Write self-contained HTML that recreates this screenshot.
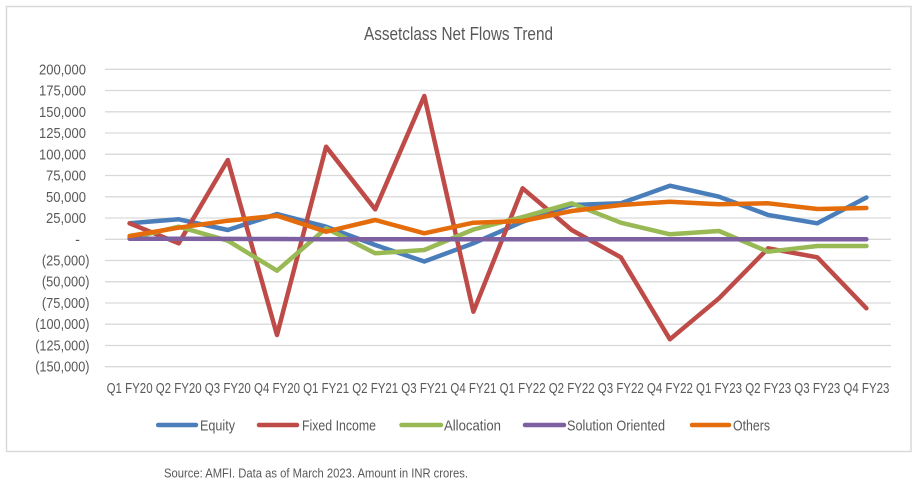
<!DOCTYPE html>
<html><head><meta charset="utf-8"><style>
html,body{margin:0;padding:0;background:#fff;}
svg{display:block;}
text{font-family:"Liberation Sans Narrow","Liberation Sans",sans-serif;fill:#595959;}
</style></head><body>
<svg width="917" height="485" viewBox="0 0 917 485" xmlns="http://www.w3.org/2000/svg">
<rect x="0" y="0" width="917" height="485" fill="#fff"/>
<rect x="6.5" y="6.5" width="904.5" height="445" fill="none" stroke="#d9d9d9" stroke-width="1.5"/>
<text x="458.5" y="40" font-size="18" text-anchor="middle" textLength="189" lengthAdjust="spacingAndGlyphs">Assetclass Net Flows Trend</text>
<g stroke="#d9d9d9" stroke-width="1.3">
<line x1="105" x2="891" y1="69.3" y2="69.3"/>
<line x1="105" x2="891" y1="90.5" y2="90.5"/>
<line x1="105" x2="891" y1="111.8" y2="111.8"/>
<line x1="105" x2="891" y1="133.0" y2="133.0"/>
<line x1="105" x2="891" y1="154.3" y2="154.3"/>
<line x1="105" x2="891" y1="175.5" y2="175.5"/>
<line x1="105" x2="891" y1="196.8" y2="196.8"/>
<line x1="105" x2="891" y1="218.0" y2="218.0"/>
<line x1="105" x2="891" y1="239.3" y2="239.3"/>
<line x1="105" x2="891" y1="260.5" y2="260.5"/>
<line x1="105" x2="891" y1="281.7" y2="281.7"/>
<line x1="105" x2="891" y1="303.0" y2="303.0"/>
<line x1="105" x2="891" y1="324.2" y2="324.2"/>
<line x1="105" x2="891" y1="345.5" y2="345.5"/>
<line x1="105" x2="891" y1="366.7" y2="366.7"/>
</g>
<g font-size="14.5">
<text x="86" y="74.3" text-anchor="end" textLength="47" lengthAdjust="spacingAndGlyphs">200,000</text>
<text x="86" y="95.5" text-anchor="end" textLength="47" lengthAdjust="spacingAndGlyphs">175,000</text>
<text x="86" y="116.8" text-anchor="end" textLength="47" lengthAdjust="spacingAndGlyphs">150,000</text>
<text x="86" y="138.0" text-anchor="end" textLength="47" lengthAdjust="spacingAndGlyphs">125,000</text>
<text x="86" y="159.3" text-anchor="end" textLength="47" lengthAdjust="spacingAndGlyphs">100,000</text>
<text x="86" y="180.5" text-anchor="end" textLength="40" lengthAdjust="spacingAndGlyphs">75,000</text>
<text x="86" y="201.8" text-anchor="end" textLength="40" lengthAdjust="spacingAndGlyphs">50,000</text>
<text x="86" y="223.0" text-anchor="end" textLength="40" lengthAdjust="spacingAndGlyphs">25,000</text>
<text x="77.5" y="244.3" text-anchor="middle">-</text>
<text x="89.5" y="265.5" text-anchor="end" textLength="47.6" lengthAdjust="spacingAndGlyphs">(25,000)</text>
<text x="89.5" y="286.7" text-anchor="end" textLength="47.6" lengthAdjust="spacingAndGlyphs">(50,000)</text>
<text x="89.5" y="308.0" text-anchor="end" textLength="47.6" lengthAdjust="spacingAndGlyphs">(75,000)</text>
<text x="89.5" y="329.2" text-anchor="end" textLength="54.3" lengthAdjust="spacingAndGlyphs">(100,000)</text>
<text x="89.5" y="350.5" text-anchor="end" textLength="54.3" lengthAdjust="spacingAndGlyphs">(125,000)</text>
<text x="89.5" y="371.7" text-anchor="end" textLength="54.3" lengthAdjust="spacingAndGlyphs">(150,000)</text>
</g>
<g font-size="14.5" text-anchor="middle">
<text x="129.6" y="393" textLength="46" lengthAdjust="spacingAndGlyphs">Q1 FY20</text>
<text x="178.7" y="393" textLength="46" lengthAdjust="spacingAndGlyphs">Q2 FY20</text>
<text x="227.8" y="393" textLength="46" lengthAdjust="spacingAndGlyphs">Q3 FY20</text>
<text x="277.0" y="393" textLength="46" lengthAdjust="spacingAndGlyphs">Q4 FY20</text>
<text x="326.1" y="393" textLength="46" lengthAdjust="spacingAndGlyphs">Q1 FY21</text>
<text x="375.2" y="393" textLength="46" lengthAdjust="spacingAndGlyphs">Q2 FY21</text>
<text x="424.3" y="393" textLength="46" lengthAdjust="spacingAndGlyphs">Q3 FY21</text>
<text x="473.4" y="393" textLength="46" lengthAdjust="spacingAndGlyphs">Q4 FY21</text>
<text x="522.6" y="393" textLength="46" lengthAdjust="spacingAndGlyphs">Q1 FY22</text>
<text x="571.7" y="393" textLength="46" lengthAdjust="spacingAndGlyphs">Q2 FY22</text>
<text x="620.8" y="393" textLength="46" lengthAdjust="spacingAndGlyphs">Q3 FY22</text>
<text x="669.9" y="393" textLength="46" lengthAdjust="spacingAndGlyphs">Q4 FY22</text>
<text x="719.0" y="393" textLength="46" lengthAdjust="spacingAndGlyphs">Q1 FY23</text>
<text x="768.2" y="393" textLength="46" lengthAdjust="spacingAndGlyphs">Q2 FY23</text>
<text x="817.3" y="393" textLength="46" lengthAdjust="spacingAndGlyphs">Q3 FY23</text>
<text x="866.4" y="393" textLength="46" lengthAdjust="spacingAndGlyphs">Q4 FY23</text>
</g>
<g fill="none" stroke-width="4.5" stroke-linejoin="round" stroke-linecap="round">
<polyline stroke="#4A7EBB" points="129.6,223.3 178.7,219.3 227.8,230 277.0,214 326.1,226.7 375.2,245 424.3,261.5 473.4,243.3 522.6,221.7 571.7,205 620.8,203.3 669.9,185.7 719.0,196.7 768.2,215 817.3,223.3 866.4,197.5"/>
<polyline stroke="#BE4B48" points="129.6,223.3 178.7,243.3 227.8,160 277.0,335 326.1,146.7 375.2,209.3 424.3,96 473.4,311.7 522.6,188.3 571.7,230 620.8,257.3 669.9,339.3 719.0,298.3 768.2,248.3 817.3,257.3 866.4,308.3"/>
<polyline stroke="#98B954" points="129.6,238.3 178.7,226.7 227.8,240.7 277.0,270.7 326.1,228.3 375.2,253.3 424.3,250 473.4,229.5 522.6,217 571.7,203.3 620.8,222.7 669.9,234.3 719.0,231 768.2,251.7 817.3,246 866.4,246"/>
<polyline stroke="#7D60A0" points="129.6,238.8 178.7,238.8 227.8,238.9 277.0,239 326.1,239.3 375.2,239.3 424.3,239.3 473.4,239.3 522.6,239.3 571.7,239.3 620.8,239.3 669.9,239.2 719.0,239.2 768.2,239.2 817.3,239.2 866.4,239.2"/>
<polyline stroke="#E46C0A" points="129.6,236 178.7,227.7 227.8,220.7 277.0,215.7 326.1,231.7 375.2,220 424.3,233.3 473.4,222.7 522.6,221 571.7,211 620.8,205 669.9,201.7 719.0,204.3 768.2,203.3 817.3,209 866.4,208"/>
</g>
<g stroke-width="4.5" stroke-linecap="round">
<line x1="158.2" x2="196" y1="425" y2="425" stroke="#4A7EBB"/>
<line x1="259" x2="297" y1="425" y2="425" stroke="#BE4B48"/>
<line x1="401.5" x2="441" y1="425" y2="425" stroke="#98B954"/>
<line x1="525" x2="564" y1="425" y2="425" stroke="#7D60A0"/>
<line x1="692" x2="729" y1="425" y2="425" stroke="#E46C0A"/>
</g>
<g font-size="15">
<text x="200" y="430.7" textLength="35" lengthAdjust="spacingAndGlyphs">Equity</text>
<text x="302" y="430.7" textLength="74" lengthAdjust="spacingAndGlyphs">Fixed Income</text>
<text x="444" y="430.7" textLength="57" lengthAdjust="spacingAndGlyphs">Allocation</text>
<text x="567" y="430.7" textLength="98" lengthAdjust="spacingAndGlyphs">Solution Oriented</text>
<text x="733" y="430.7" textLength="37" lengthAdjust="spacingAndGlyphs">Others</text>
</g>
<text x="164" y="477.5" font-size="13" textLength="304" lengthAdjust="spacingAndGlyphs">Source: AMFI. Data as of March 2023. Amount in INR crores.</text>
</svg>
</body></html>
